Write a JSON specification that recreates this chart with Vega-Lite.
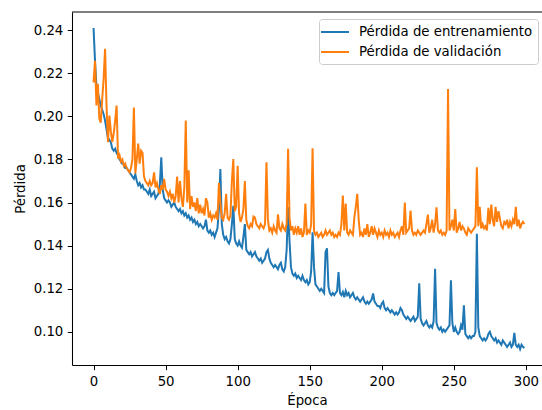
{
  "$schema": "https://vega.github.io/schema/vega-lite/v6.json",
  "width": 470,
  "height": 353,
  "autosize": {"type": "none"},
  "padding": {"left": 72, "top": 12, "right": 0, "bottom": 45},
  "background": "white",
  "config": {"view": {"stroke": null}, "font": "DejaVu Sans"},
  "data": {"values": [
    {"e":0,"t":0.241,"v":0.2157},{"e":1,"t":0.226,"v":0.2258},{"e":2,"t":0.214,"v":0.205},{"e":3,"t":0.211,"v":0.2151},{"e":4,"t":0.208,"v":0.199},
    {"e":5,"t":0.205,"v":0.197},{"e":6,"t":0.203,"v":0.208},{"e":7,"t":0.201,"v":0.2174},{"e":8,"t":0.198,"v":0.2313},{"e":9,"t":0.194,"v":0.205},
    {"e":10,"t":0.190,"v":0.188},{"e":11,"t":0.189,"v":0.2003},{"e":12,"t":0.188,"v":0.193},{"e":13,"t":0.185,"v":0.188},{"e":14,"t":0.184,"v":0.192},
    {"e":15,"t":0.185,"v":0.198},{"e":16,"t":0.183,"v":0.205},{"e":17,"t":0.182,"v":0.1804},{"e":18,"t":0.180,"v":0.182},{"e":19,"t":0.179,"v":0.179},
    {"e":20,"t":0.178,"v":0.180},{"e":21,"t":0.178,"v":0.177},{"e":22,"t":0.176,"v":0.178},{"e":23,"t":0.176,"v":0.176},{"e":24,"t":0.175,"v":0.175},
    {"e":25,"t":0.174,"v":0.174},{"e":26,"t":0.173,"v":0.176},{"e":27,"t":0.172,"v":0.180},{"e":28,"t":0.171,"v":0.2041},{"e":29,"t":0.173,"v":0.1735},
    {"e":30,"t":0.170,"v":0.180},{"e":31,"t":0.168,"v":0.1873},{"e":32,"t":0.169,"v":0.178},{"e":33,"t":0.167,"v":0.184},{"e":34,"t":0.168,"v":0.183},
    {"e":35,"t":0.166,"v":0.172},{"e":36,"t":0.166,"v":0.170},{"e":37,"t":0.165,"v":0.169},{"e":38,"t":0.164,"v":0.168},{"e":39,"t":0.166,"v":0.170},
    {"e":40,"t":0.163,"v":0.168},{"e":41,"t":0.164,"v":0.169},{"e":42,"t":0.165,"v":0.174},{"e":43,"t":0.162,"v":0.167},{"e":44,"t":0.163,"v":0.169},
    {"e":45,"t":0.164,"v":0.166},{"e":46,"t":0.168,"v":0.164},{"e":47,"t":0.181,"v":0.168},{"e":48,"t":0.166,"v":0.166},{"e":49,"t":0.162,"v":0.171},
    {"e":50,"t":0.161,"v":0.166},{"e":51,"t":0.160,"v":0.165},{"e":52,"t":0.161,"v":0.163},{"e":53,"t":0.160,"v":0.165},{"e":54,"t":0.158,"v":0.162},
    {"e":55,"t":0.159,"v":0.164},{"e":56,"t":0.160,"v":0.160},{"e":57,"t":0.158,"v":0.163},{"e":58,"t":0.157,"v":0.172},{"e":59,"t":0.156,"v":0.160},
    {"e":60,"t":0.157,"v":0.170},{"e":61,"t":0.155,"v":0.162},{"e":62,"t":0.156,"v":0.158},{"e":63,"t":0.154,"v":0.167},{"e":64,"t":0.155,"v":0.198},
    {"e":65,"t":0.153,"v":0.160},{"e":66,"t":0.154,"v":0.175},{"e":67,"t":0.152,"v":0.157},{"e":68,"t":0.153,"v":0.163},{"e":69,"t":0.151,"v":0.158},
    {"e":70,"t":0.152,"v":0.160},{"e":71,"t":0.150,"v":0.156},{"e":72,"t":0.151,"v":0.162},{"e":73,"t":0.149,"v":0.155},{"e":74,"t":0.150,"v":0.159},
    {"e":75,"t":0.149,"v":0.155},{"e":76,"t":0.148,"v":0.157},{"e":77,"t":0.149,"v":0.154},{"e":78,"t":0.152,"v":0.162},{"e":79,"t":0.147,"v":0.160},
    {"e":80,"t":0.146,"v":0.153},{"e":81,"t":0.147,"v":0.155},{"e":82,"t":0.145,"v":0.152},{"e":83,"t":0.146,"v":0.154},{"e":84,"t":0.144,"v":0.153},
    {"e":85,"t":0.146,"v":0.155},{"e":86,"t":0.148,"v":0.152},{"e":87,"t":0.157,"v":0.169},{"e":88,"t":0.1755,"v":0.160},{"e":89,"t":0.150,"v":0.153},
    {"e":90,"t":0.145,"v":0.152},{"e":91,"t":0.143,"v":0.155},{"e":92,"t":0.144,"v":0.164},{"e":93,"t":0.142,"v":0.153},{"e":94,"t":0.141,"v":0.152},
    {"e":95,"t":0.143,"v":0.154},{"e":96,"t":0.150,"v":0.170},{"e":97,"t":0.1585,"v":0.1802},{"e":98,"t":0.143,"v":0.156},{"e":99,"t":0.141,"v":0.158},
    {"e":100,"t":0.140,"v":0.177},{"e":101,"t":0.142,"v":0.155},{"e":102,"t":0.140,"v":0.151},{"e":103,"t":0.139,"v":0.153},{"e":104,"t":0.144,"v":0.157},
    {"e":105,"t":0.150,"v":0.170},{"e":106,"t":0.138,"v":0.152},{"e":107,"t":0.137,"v":0.149},{"e":108,"t":0.136,"v":0.148},{"e":109,"t":0.137,"v":0.150},
    {"e":110,"t":0.135,"v":0.149},{"e":111,"t":0.136,"v":0.1535},{"e":112,"t":0.137,"v":0.153},{"e":113,"t":0.135,"v":0.150},{"e":114,"t":0.134,"v":0.149},
    {"e":115,"t":0.133,"v":0.148},{"e":116,"t":0.134,"v":0.150},{"e":117,"t":0.132,"v":0.149},{"e":118,"t":0.133,"v":0.148},{"e":119,"t":0.134,"v":0.150},
    {"e":120,"t":0.137,"v":0.1787},{"e":121,"t":0.138,"v":0.152},{"e":122,"t":0.134,"v":0.147},{"e":123,"t":0.132,"v":0.148},{"e":124,"t":0.131,"v":0.146},
    {"e":125,"t":0.130,"v":0.149},{"e":126,"t":0.131,"v":0.147},{"e":127,"t":0.130,"v":0.146},{"e":128,"t":0.129,"v":0.1545},{"e":129,"t":0.131,"v":0.148},
    {"e":130,"t":0.132,"v":0.147},{"e":131,"t":0.129,"v":0.150},{"e":132,"t":0.128,"v":0.148},{"e":133,"t":0.130,"v":0.147},{"e":134,"t":0.138,"v":0.150},
    {"e":135,"t":0.1578,"v":0.1849},{"e":136,"t":0.142,"v":0.153},{"e":137,"t":0.130,"v":0.147},{"e":138,"t":0.127,"v":0.149},{"e":139,"t":0.126,"v":0.145},
    {"e":140,"t":0.127,"v":0.148},{"e":141,"t":0.125,"v":0.146},{"e":142,"t":0.126,"v":0.149},{"e":143,"t":0.125,"v":0.145},{"e":144,"t":0.124,"v":0.148},
    {"e":145,"t":0.126,"v":0.144},{"e":146,"t":0.124,"v":0.146},{"e":147,"t":0.123,"v":0.1595},{"e":148,"t":0.124,"v":0.145},{"e":149,"t":0.122,"v":0.147},
    {"e":150,"t":0.123,"v":0.146},{"e":151,"t":0.128,"v":0.150},{"e":152,"t":0.1462,"v":0.1852},{"e":153,"t":0.130,"v":0.147},{"e":154,"t":0.122,"v":0.145},
    {"e":155,"t":0.121,"v":0.146},{"e":156,"t":0.120,"v":0.144},{"e":157,"t":0.119,"v":0.145},{"e":158,"t":0.120,"v":0.146},{"e":159,"t":0.119,"v":0.144},
    {"e":160,"t":0.118,"v":0.145},{"e":161,"t":0.137,"v":0.147},{"e":162,"t":0.1387,"v":0.145},{"e":163,"t":0.121,"v":0.146},{"e":164,"t":0.118,"v":0.147},
    {"e":165,"t":0.117,"v":0.145},{"e":166,"t":0.118,"v":0.146},{"e":167,"t":0.117,"v":0.144},{"e":168,"t":0.118,"v":0.145},{"e":169,"t":0.119,"v":0.144},
    {"e":170,"t":0.1277,"v":0.146},{"e":171,"t":0.118,"v":0.145},{"e":172,"t":0.117,"v":0.150},{"e":173,"t":0.1185,"v":0.1632},{"e":174,"t":0.116,"v":0.147},
    {"e":175,"t":0.119,"v":0.1595},{"e":176,"t":0.117,"v":0.146},{"e":177,"t":0.118,"v":0.145},{"e":178,"t":0.116,"v":0.147},{"e":179,"t":0.117,"v":0.146},
    {"e":180,"t":0.118,"v":0.145},{"e":181,"t":0.116,"v":0.1532},{"e":182,"t":0.115,"v":0.158},{"e":183,"t":0.116,"v":0.164},{"e":184,"t":0.115,"v":0.152},
    {"e":185,"t":0.114,"v":0.145},{"e":186,"t":0.115,"v":0.146},{"e":187,"t":0.116,"v":0.144},{"e":188,"t":0.114,"v":0.148},{"e":189,"t":0.113,"v":0.145},
    {"e":190,"t":0.114,"v":0.150},{"e":191,"t":0.113,"v":0.144},{"e":192,"t":0.114,"v":0.146},{"e":193,"t":0.115,"v":0.149},{"e":194,"t":0.1178,"v":0.145},
    {"e":195,"t":0.114,"v":0.148},{"e":196,"t":0.113,"v":0.146},{"e":197,"t":0.112,"v":0.144},{"e":198,"t":0.112,"v":0.147},{"e":199,"t":0.111,"v":0.145},
    {"e":200,"t":0.113,"v":0.146},{"e":201,"t":0.114,"v":0.144},{"e":202,"t":0.111,"v":0.147},{"e":203,"t":0.110,"v":0.145},{"e":204,"t":0.111,"v":0.146},
    {"e":205,"t":0.110,"v":0.144},{"e":206,"t":0.109,"v":0.147},{"e":207,"t":0.110,"v":0.145},{"e":208,"t":0.109,"v":0.146},{"e":209,"t":0.108,"v":0.144},
    {"e":210,"t":0.109,"v":0.145},{"e":211,"t":0.108,"v":0.146},{"e":212,"t":0.109,"v":0.144},{"e":213,"t":0.111,"v":0.147},{"e":214,"t":0.110,"v":0.149},
    {"e":215,"t":0.108,"v":0.145},{"e":216,"t":0.107,"v":0.160},{"e":217,"t":0.106,"v":0.146},{"e":218,"t":0.107,"v":0.147},{"e":219,"t":0.106,"v":0.148},
    {"e":220,"t":0.105,"v":0.1563},{"e":221,"t":0.106,"v":0.147},{"e":222,"t":0.107,"v":0.145},{"e":223,"t":0.105,"v":0.146},{"e":224,"t":0.106,"v":0.145},
    {"e":225,"t":0.107,"v":0.147},{"e":226,"t":0.1225,"v":0.146},{"e":227,"t":0.106,"v":0.145},{"e":228,"t":0.104,"v":0.146},{"e":229,"t":0.103,"v":0.147},
    {"e":230,"t":0.104,"v":0.146},{"e":231,"t":0.105,"v":0.150},{"e":232,"t":0.103,"v":0.1544},{"e":233,"t":0.102,"v":0.146},{"e":234,"t":0.103,"v":0.148},
    {"e":235,"t":0.102,"v":0.152},{"e":236,"t":0.105,"v":0.146},{"e":237,"t":0.1293,"v":0.150},{"e":238,"t":0.104,"v":0.1578},{"e":239,"t":0.102,"v":0.147},
    {"e":240,"t":0.101,"v":0.146},{"e":241,"t":0.102,"v":0.147},{"e":242,"t":0.100,"v":0.145},{"e":243,"t":0.101,"v":0.146},{"e":244,"t":0.100,"v":0.145},
    {"e":245,"t":0.101,"v":0.147},{"e":246,"t":0.102,"v":0.2127},{"e":247,"t":0.103,"v":0.147},{"e":248,"t":0.1239,"v":0.149},{"e":249,"t":0.104,"v":0.152},
    {"e":250,"t":0.100,"v":0.147},{"e":251,"t":0.102,"v":0.157},{"e":252,"t":0.100,"v":0.146},{"e":253,"t":0.099,"v":0.148},{"e":254,"t":0.100,"v":0.151},
    {"e":255,"t":0.103,"v":0.147},{"e":256,"t":0.101,"v":0.149},{"e":257,"t":0.1123,"v":0.148},{"e":258,"t":0.099,"v":0.146},{"e":259,"t":0.098,"v":0.145},
    {"e":260,"t":0.097,"v":0.148},{"e":261,"t":0.098,"v":0.147},{"e":262,"t":0.097,"v":0.146},{"e":263,"t":0.098,"v":0.147},{"e":264,"t":0.098,"v":0.148},
    {"e":265,"t":0.100,"v":0.149},{"e":266,"t":0.1455,"v":0.1763},{"e":267,"t":0.102,"v":0.149},{"e":268,"t":0.098,"v":0.158},{"e":269,"t":0.097,"v":0.148},
    {"e":270,"t":0.096,"v":0.150},{"e":271,"t":0.097,"v":0.148},{"e":272,"t":0.096,"v":0.149},{"e":273,"t":0.097,"v":0.147},{"e":274,"t":0.099,"v":0.1575},
    {"e":275,"t":0.100,"v":0.150},{"e":276,"t":0.098,"v":0.159},{"e":277,"t":0.097,"v":0.152},{"e":278,"t":0.096,"v":0.149},{"e":279,"t":0.097,"v":0.158},
    {"e":280,"t":0.095,"v":0.151},{"e":281,"t":0.096,"v":0.156},{"e":282,"t":0.095,"v":0.1525},{"e":283,"t":0.094,"v":0.149},{"e":284,"t":0.096,"v":0.148},
    {"e":285,"t":0.095,"v":0.151},{"e":286,"t":0.094,"v":0.150},{"e":287,"t":0.093,"v":0.152},{"e":288,"t":0.094,"v":0.148},{"e":289,"t":0.095,"v":0.151},
    {"e":290,"t":0.093,"v":0.149},{"e":291,"t":0.094,"v":0.152},{"e":292,"t":0.0995,"v":0.150},{"e":293,"t":0.094,"v":0.158},{"e":294,"t":0.093,"v":0.149},
    {"e":295,"t":0.094,"v":0.152},{"e":296,"t":0.092,"v":0.148},{"e":297,"t":0.094,"v":0.150},{"e":298,"t":0.093,"v":0.151},{"e":299,"t":0.0925,"v":0.150}
  ]},
  "layer": [
    {
      "transform": [{"fold": ["t", "v"], "as": ["serie", "perdida"]}],
      "mark": {"type": "line", "strokeWidth": 2, "clip": true},
      "encoding": {
        "x": {
          "field": "e", "type": "quantitative",
          "scale": {"domain": [-14.95, 311.2], "nice": false, "zero": false},
          "axis": {
            "title": "Época", "values": [0, 50, 100, 150, 200, 250, 300], "grid": false,
            "tickSize": 4.7, "tickWidth": 1.05, "tickColor": "black",
            "domainColor": "black", "domainWidth": 1.05,
            "labelFont": "DejaVu Sans", "labelFontSize": 13.3, "labelColor": "black", "labelPadding": 4.5,
            "titleFont": "DejaVu Sans", "titleFontSize": 13.3, "titleFontWeight": "normal", "titleColor": "black", "titlePadding": 6
          }
        },
        "y": {
          "field": "perdida", "type": "quantitative",
          "scale": {"domain": [0.0846, 0.2484], "nice": false, "zero": false},
          "axis": {
            "title": "Pérdida", "values": [0.10, 0.12, 0.14, 0.16, 0.18, 0.20, 0.22, 0.24], "format": ".2f", "grid": false,
            "tickSize": 4.7, "tickWidth": 1.05, "tickColor": "black",
            "domainColor": "black", "domainWidth": 1.05,
            "labelFont": "DejaVu Sans", "labelFontSize": 13.3, "labelColor": "black", "labelPadding": 4.5,
            "titleFont": "DejaVu Sans", "titleFontSize": 13.3, "titleFontWeight": "normal", "titleColor": "black", "titlePadding": 6
          }
        },
        "color": {
          "field": "serie", "type": "nominal",
          "scale": {"domain": ["t", "v"], "range": ["#1f77b4", "#ff7f0e"]},
          "legend": {
            "orient": "none", "legendX": 247, "legendY": 7, "title": null,
            "symbolType": "M-2,0L2,0", "symbolSize": 196, "symbolStrokeWidth": 2, "symbolOffset": 3,
            "labelFont": "DejaVu Sans", "labelFontSize": 13.3, "labelColor": "black", "labelOffset": 16,
            "labelLimit": 400, "rowPadding": 5, "padding": 5,
            "fillColor": "rgba(255,255,255,0.8)", "strokeColor": "#cccccc", "cornerRadius": 3,
            "labelExpr": "datum.label == 't' ? 'Pérdida de entrenamiento' : 'Pérdida de validación'"
          }
        }
      }
    },
    {
      "data": {"values": [{}]},
      "mark": {"type": "rule", "color": "black", "strokeWidth": 1.05},
      "encoding": {"y": {"datum": 0.2484}}
    }
  ]
}
